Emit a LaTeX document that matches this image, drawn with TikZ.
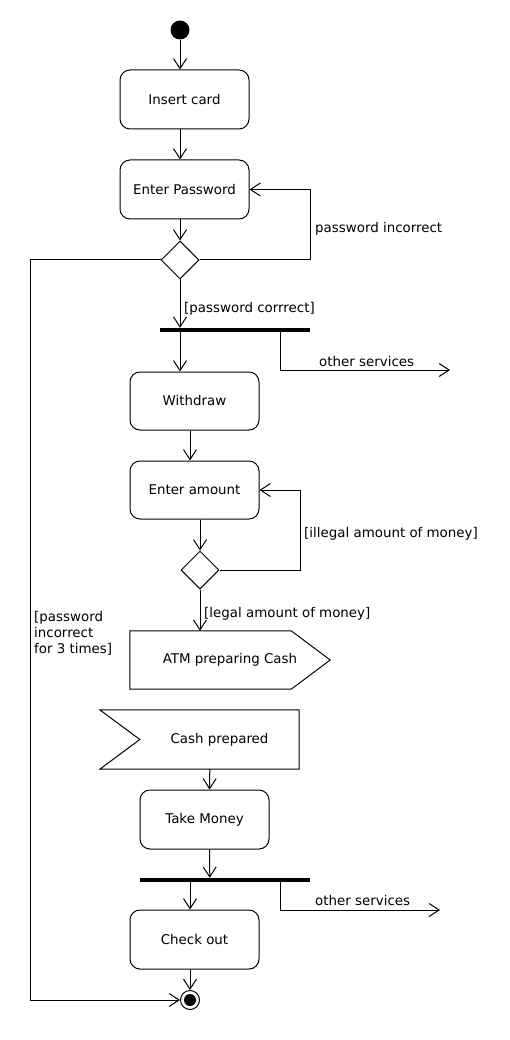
\documentclass[tikz,border=0pt]{standalone}
\usepackage{fontspec}
\setmainfont{DejaVu Sans}
\usetikzlibrary{positioning,calc,arrows.meta,shapes.geometric}
\tikzstyle{activity} = [draw,line width=1pt,rounded corners=10pt,minimum width=129pt,minimum height=59pt,inner sep=0pt]
\tikzstyle{decision} = [draw,diamond,line width=1pt,minimum width=38pt,minimum height=38pt,inner sep=0pt]
\tikzstyle{sigbox} = [minimum height=58pt,inner sep=0pt]
\tikzstyle{bar} = [fill=black,minimum height=4pt,inner sep=0pt]
\tikzstyle{startdot} = [circle,fill=black,minimum size=19pt,inner sep=0pt]
\tikzstyle{enddot} = [circle,draw,line width=1pt,minimum size=19pt,inner sep=0pt,path picture={\fill (path picture bounding box.center) circle (6pt);}]
\tikzstyle{flow} = [draw,line width=1pt,-{Straight Barb[length=10pt,width=13pt]}]
\tikzstyle{guard} = [inner sep=0pt,anchor=base west]

\begin{document}
\begin{tikzpicture}[x=1pt,y=-1pt,font=\fontsize{13.4}{16}\selectfont]
           \useasboundingbox (0,0) rectangle (510,1040);
           \node[startdot] (start) at (180,30) {};
           \node[activity] (insert) at (184.5,99.5) {Insert card};
           \node[activity] (passwd) at (184.5,189.5) {Enter Password};
           \node[decision] (choice1) at (180,260) {};
           \node[bar,minimum width=150pt] (fork1) at (235,330) {};
           \node[activity,minimum height=58pt] (withdraw) at (194.5,401) {Withdraw};
           \node[activity,minimum height=58pt] (amount) at (194.5,490) {Enter amount};
           \node[decision] (choice2) at (200,570) {};
           \node[sigbox,minimum width=200pt] (atm) at (230,660) {ATM preparing Cash};
           \node[sigbox,minimum width=159pt,minimum height=59pt] (cash) at (219.5,739.5) {Cash prepared};
           \node[activity] (take) at (204.5,819.5) {Take Money};
           \node[bar,minimum width=170pt] (fork2) at (225,880) {};
           \node[activity] (checkout) at (194.5,939.5) {Check out};
           \node[enddot] (stop) at (190,1000) {};
           \coordinate (out1) at (450,370);
           \coordinate (out2) at (440,910);
           \coordinate (side) at (30,260);
           \draw[line width=1pt] (atm.north west) -- ($(atm.north east)+(-39,0)$) -- (atm.east) -- ($(atm.south east)+(-39,0)$) -- (atm.south west) -- cycle;
           \draw[line width=1pt] (cash.north east) -- (cash.south east) -- ($(cash.south west)+(-40,0)$) -- (cash.west) -- ($(cash.north west)+(-40,0)$) -- cycle;
           \draw[flow] (start) -- (start |- insert.north);
           \draw[flow] (insert.south -| start) -- (passwd.north -| start);
           \draw[flow] (passwd.south -| start) -- (choice1.north);
           \draw[flow] (choice1.east) -| ($(passwd.east)+(61,0)$) -- (passwd.east);
           \draw[flow] (choice1.south) -- (choice1.south |- fork1.north);
           \draw[flow] (fork1.south -| start) -- (withdraw.north -| start);
           \draw[flow] ($(fork1.south east)+(-30,0)$) |- (out1);
           \draw[flow] (withdraw.south -| stop) -- (amount.north -| stop);
           \draw[flow] (amount.south -| choice2) -- (choice2.north);
           \draw[flow] (choice2.east) -| ($(amount.east)+(41,0)$) -- (amount.east);
           \draw[flow] (choice2.south) -- (choice2.south |- atm.north);
           \draw[flow] ($(cash.south west)+(70,0)$) -- ($(take.north west)+(70,0)$);
           \draw[flow] ($(take.south west)+(70,0)$) -- ($(fork2.north west)+(70,0)$);
           \draw[flow] (fork2.south -| stop) -- (checkout.north -| stop);
           \draw[flow] ($(fork2.south east)+(-30,0)$) |- (out2);
           \draw[flow] (checkout.south -| stop) -- (stop.north);
           \draw[flow] (choice1.west) -- (side) |- (stop.west);
           \node[guard] (lblretry) at (315,232.5) {password incorrect};
           \node[guard] (lblok) at (184,312.5) {[password corrrect]};
           \node[guard] (lblmore1) at (319,366) {other services};
           \node[guard] (lblillegal) at (304,537.5) {[illegal amount of money]};
           \node[guard] (lbllegal) at (204,617.5) {[legal amount of money]};
           \node[guard,anchor=north west,align=left] (lblthree) at (34,611) {[password\\incorrect\\for 3 times]};
           \node[guard] (lblmore2) at (315,905.5) {other services};
        \end{tikzpicture}
\end{document}
